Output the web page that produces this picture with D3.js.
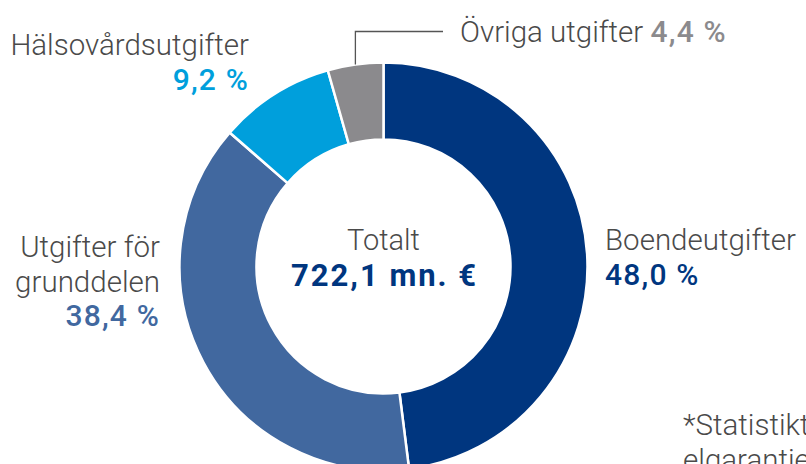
<!DOCTYPE html>
<html>
<head>
<meta charset="utf-8">
<script src="https://cdn.jsdelivr.net/npm/d3@7"></script>
<style>
  body { margin: 0; background: #fff; }
  svg { display: block; font-family: Roboto, "Noto Sans", sans-serif; }
</style>
</head>
<body>
<svg id="chart" width="806" height="464"></svg>
<script>
var categories = ["Boendeutgifter", "Utgifter för grunddelen", "Hälsovårdsutgifter", "Övriga utgifter"];
var shares = [48.0, 38.4, 9.2, 4.4];
var shareLabels = ["48,0 %", "38,4 %", "9,2 %", "4,4 %"];
var colors = ["#00367f", "#41689f", "#009fdc", "#8b8a8d"];
var totalLabel = "Totalt";
var totalValue = "722,1 mn. €";

var W = 806, H = 464;
var cx = 383.5, cy = 266.5;
var outerR = 204, innerR = 127;
var labelGrey = "#4a4a4a";
var LABEL_SIZE = 29.5, PCT_SIZE = 30;

var svg = d3.select("#chart");
var g = svg.append("g").attr("transform", "translate(" + cx + "," + cy + ")");

var rows = categories.map(function(c, i) {
  return { name: c, value: shares[i], label: shareLabels[i], color: colors[i] };
});

var pie = d3.pie().sort(null).value(function(d) { return d.value; });
var arc = d3.arc().innerRadius(innerR).outerRadius(outerR);
var arcs = pie(rows);

g.selectAll("path")
  .data(arcs)
  .enter().append("path")
  .attr("d", arc)
  .attr("fill", function(d) { return d.data.color; })
  .attr("stroke", "#fff")
  .attr("stroke-width", 2.5);

// center text
g.append("text")
  .attr("text-anchor", "middle")
  .attr("y", -17)
  .attr("font-size", 29)
  .attr("font-weight", 300)
  .attr("fill", labelGrey)
  .text(totalLabel);
g.append("text")
  .attr("text-anchor", "middle")
  .attr("x", 1)
  .attr("y", 19)
  .attr("font-size", 31)
  .attr("font-weight", 700)
  .attr("letter-spacing", 2)
  .attr("fill", colors[0])
  .text(totalValue);

// leader line for the small grey slice
var other = arcs[3];
var mid = (other.startAngle + other.endAngle) / 2;
var lx = cx + Math.sin(mid) * outerR;
var ly = cy - Math.cos(mid) * outerR;
svg.append("path")
  .attr("d", "M" + lx + "," + ly + "V31.5H443")
  .attr("fill", "none")
  .attr("stroke", "#555")
  .attr("stroke-width", 1.3);

function label(x, y, anchor, lines, pct, color) {
  var t = svg.append("text")
    .attr("x", x)
    .attr("y", y)
    .attr("text-anchor", anchor);
  lines.forEach(function(line, i) {
    t.append("tspan")
      .attr("x", x)
      .attr("dy", i === 0 ? 0 : 34.5)
      .attr("font-size", LABEL_SIZE)
      .attr("font-weight", 300)
      .attr("fill", labelGrey)
      .text(line);
  });
  t.append("tspan")
    .attr("x", x)
    .attr("dy", 34.5)
    .attr("font-size", PCT_SIZE)
    .attr("font-weight", 500)
    .attr("letter-spacing", 1.2)
    .attr("fill", color)
    .text(pct);
}

label(605, 250, "start", [rows[0].name], rows[0].label, rows[0].color);
label(160, 257, "end", ["Utgifter för", "grunddelen"], rows[1].label, rows[1].color);
label(249, 55, "end", [rows[2].name], rows[2].label, rows[2].color);

// Övriga on one line
var o = svg.append("text")
  .attr("x", 460)
  .attr("y", 42);
o.append("tspan").attr("font-size", LABEL_SIZE).attr("font-weight", 300).attr("fill", labelGrey).text(rows[3].name + " ");
o.append("tspan").attr("font-size", PCT_SIZE).attr("font-weight", 500).attr("letter-spacing", 1.2)
  .attr("fill", rows[3].color).text(rows[3].label);

// footnote (cut off at the right edge, as in the source)
var f = svg.append("text")
  .attr("x", 683)
  .attr("y", 435)
  .attr("font-size", LABEL_SIZE)
  .attr("font-weight", 300)
  .attr("fill", labelGrey);
f.append("tspan").attr("x", 683).text("*Statistiktalet innehåller");
f.append("tspan").attr("x", 683).attr("dy", 35).text("elgarantier");
</script>
</body>
</html>
